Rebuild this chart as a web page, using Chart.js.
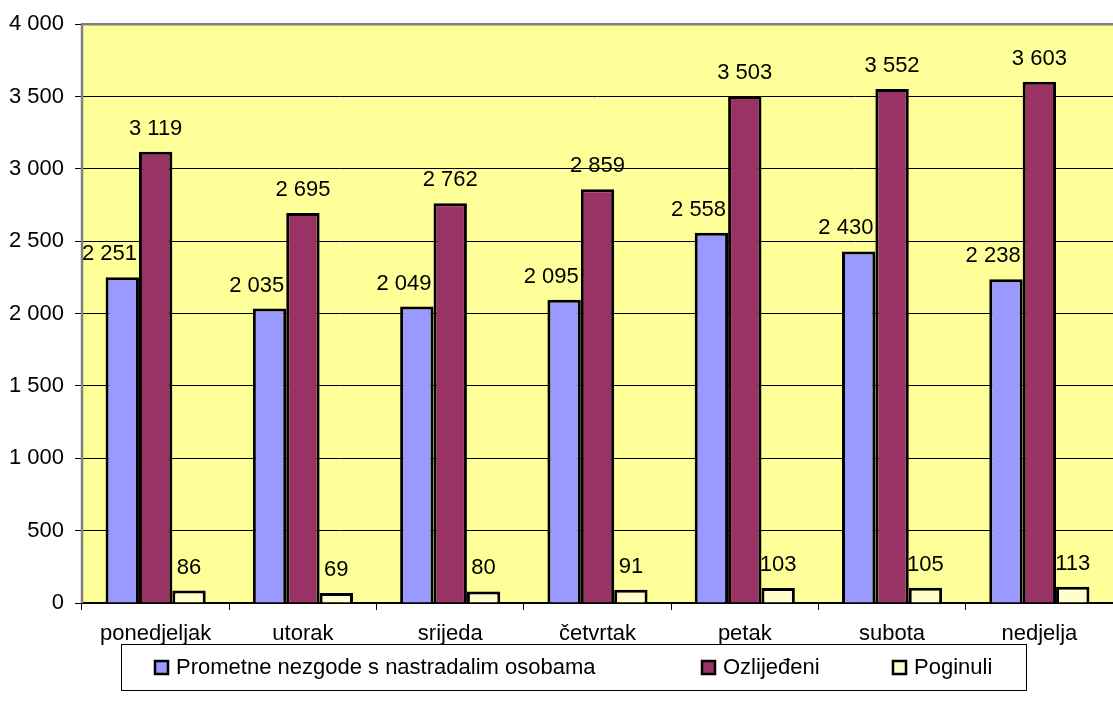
<!DOCTYPE html>
<html>
<head>
<meta charset="utf-8">
<script src="https://cdn.jsdelivr.net/npm/chart.js@4.4.1/dist/chart.umd.min.js"></script>
<style>
html,body{margin:0;padding:0;background:#fff;}
#wrap{width:1113px;height:719px;position:relative;}
</style>
</head>
<body>
<div id="wrap"><canvas id="c" width="1113" height="719"></canvas></div>
<script>
const categories = ['ponedjeljak','utorak','srijeda','četvrtak','petak','subota','nedjelja'];
const seriesNames = ['Prometne nezgode s nastradalim osobama','Ozlijeđeni','Poginuli'];
const nezgode = [2251, 2035, 2049, 2095, 2558, 2430, 2238];
const ozlijedeni = [3119, 2695, 2762, 2859, 3503, 3552, 3603];
const poginuli = [86, 69, 80, 91, 103, 105, 113];
const yTicks = [0, 500, 1000, 1500, 2000, 2500, 3000, 3500, 4000];
const colors = ['#9999FF', '#993366', '#FFFFCC'];

const FONT = '"Liberation Sans", Arial, sans-serif';
const FS = 22;
const fmt = v => String(v).replace(/\B(?=(\d{3})+(?!\d))/g, ' ');

const bgPlugin = {
  id: 'bg',
  beforeDraw(chart) {
    const {ctx, chartArea: a} = chart;
    ctx.save();
    ctx.fillStyle = '#FFFF99';
    ctx.fillRect(a.left, a.top, a.right - a.left, a.bottom - a.top);
    ctx.restore();
  },
  afterDatasetsDraw(chart) {
    const {ctx, chartArea: a} = chart;
    ctx.save();
    ctx.strokeStyle = '#808080';
    ctx.lineWidth = 2.5;
    ctx.beginPath();
    ctx.moveTo(a.left, a.bottom);
    ctx.lineTo(a.left, a.top);
    ctx.lineTo(a.right, a.top);
    ctx.stroke();
    ctx.restore();
  }
};

const labelPlugin = {
  id: 'vals',
  afterDatasetsDraw(chart) {
    const {ctx} = chart;
    const next = chart.getDatasetMeta(1).data;
    ctx.save();
    ctx.font = FS + 'px ' + FONT;
    ctx.fillStyle = '#000';
    ctx.textBaseline = 'alphabetic';
    chart.data.datasets.forEach((ds, i) => {
      const meta = chart.getDatasetMeta(i);
      meta.data.forEach((bar, j) => {
        const txt = fmt(ds.data[j]);
        if (i === 0) {
          const nb = next[j];
          const edge = nb.x - nb.width / 2 - 2;
          ctx.textAlign = 'right';
          ctx.fillText(txt, edge, bar.y - 17);
        } else {
          ctx.textAlign = 'center';
          ctx.fillText(txt, bar.x, bar.y - 17);
        }
      });
    });
    ctx.restore();
  }
};

const legendPlugin = {
  id: 'legbox',
  afterDraw(chart) {
    const {ctx} = chart;
    ctx.save();
    ctx.strokeStyle = '#000';
    ctx.lineWidth = 1;
    ctx.strokeRect(121.5, 644.5, 905, 46);
    const xs = [155, 702, 893];
    ctx.font = FS + 'px ' + FONT;
    ctx.textBaseline = 'middle';
    ctx.textAlign = 'left';
    chart.data.datasets.forEach((ds, i) => {
      const x = xs[i], y = 661;
      ctx.fillStyle = ds.backgroundColor;
      ctx.fillRect(x, y, 13, 13);
      ctx.lineWidth = 2.5;
      ctx.strokeStyle = '#000';
      ctx.strokeRect(x, y, 13, 13);
      ctx.fillStyle = '#000';
      ctx.fillText(ds.label, x + 21, y + 7);
    });
    ctx.restore();
  }
};

new Chart(document.getElementById('c'), {
  type: 'bar',
  data: {
    labels: categories,
    datasets: [
      {label: seriesNames[0], data: nezgode, backgroundColor: colors[0]},
      {label: seriesNames[1], data: ozlijedeni, backgroundColor: colors[1]},
      {label: seriesNames[2], data: poginuli, backgroundColor: colors[2]}
    ].map(d => Object.assign(d, {borderColor: '#000', borderWidth: 3, categoryPercentage: 0.68, barPercentage: 1.0}))
  },
  options: {
    responsive: false,
    animation: false,
    layout: {padding: {top: 22, right: 0, bottom: 0, left: 0}},
    plugins: {legend: {display: false}, tooltip: {enabled: false}},
    scales: {
      x: {
        grid: {display: true, drawOnChartArea: false, drawTicks: true, tickLength: 7, color: '#000', offset: true},
        border: {display: true, color: '#000', width: 1.5},
        ticks: {font: {family: FONT, size: FS}, color: '#000', padding: 11, maxRotation: 0},
        afterFit(s) { s.height = 116; }
      },
      y: {
        min: 0, max: 4000,
        afterBuildTicks(s) { s.ticks = yTicks.map(v => ({value: v})); },
        grid: {color: '#000', lineWidth: 1, tickLength: 7, drawTicks: true},
        border: {display: false},
        ticks: {font: {family: FONT, size: FS}, color: '#000', padding: 11, callback: v => fmt(v)},
        afterFit(s) { s.width = 82; }
      }
    }
  },
  plugins: [bgPlugin, labelPlugin, legendPlugin]
});
</script>
</body>
</html>
